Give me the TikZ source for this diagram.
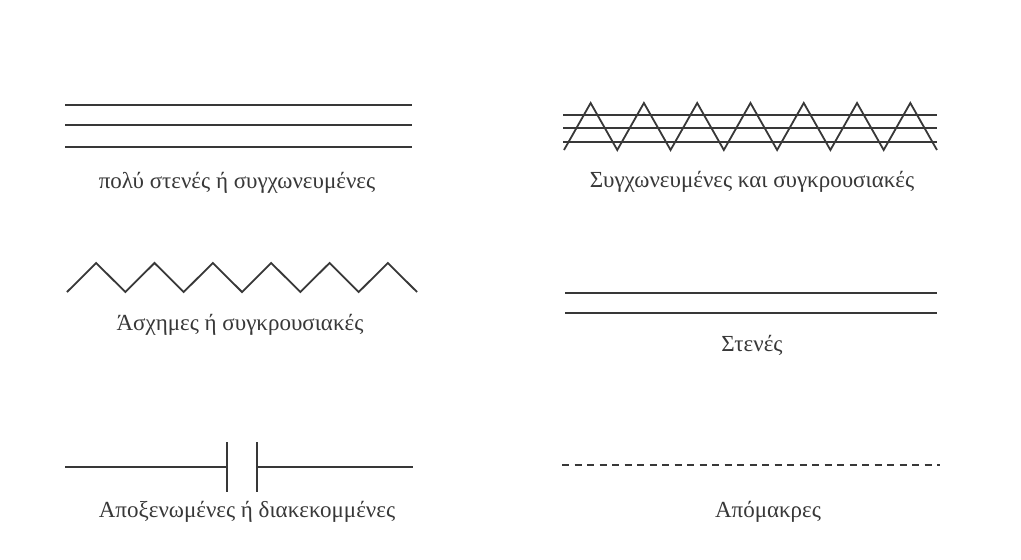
\documentclass[tikz,border=0pt]{standalone}
\usepackage{fontspec}
\setmainfont{Liberation Serif}
\usetikzlibrary{positioning}
\definecolor{ink}{HTML}{383838}
\tikzset{
  rel/.style ={draw=ink, line width=1.8pt, line join=miter},
  far/.style ={rel, dash pattern=on 7pt off 5.5pt},
  lbl/.style ={text=ink, font=\fontsize{23}{26}\selectfont, inner sep=0pt},
}

\begin{document}
\begin{tikzpicture}[x=1pt,y=-1pt]
  \useasboundingbox[fill=white] (0,0) rectangle (1021,560);
  % very close or fused
  \foreach \y in {105,125,147} \draw[rel] (65,\y) -- (412,\y);
  \node[lbl] (fused) at (237,183) {πολύ στενές ή συγχωνευμένες};
  % fused and conflictual
  \foreach \y in {115,128,142} \draw[rel] (563,\y) -- (937,\y);
  \draw[rel] (564,150) \foreach \i in {1,...,14} { -- ({564+\i*26.64},{ifthenelse(isodd(\i),103,150)}) };
  \node[lbl] (fusedconf) at (752,182) {Συγχωνευμένες και συγκρουσιακές};
  % poor or conflictual
  \draw[rel] (67,292) \foreach \i in {1,...,12} { -- ({67+\i*29.17},{ifthenelse(isodd(\i),263,292)}) };
  \node[lbl] (conf) at (240,325) {Άσχημες ή συγκρουσιακές};
  % close
  \foreach \y in {293,313} \draw[rel] (565,\y) -- (937,\y);
  \node[lbl] (close) at (752,345) {Στενές};
  % estranged or cut off
  \coordinate (cl) at (65,467);
  \coordinate (cr) at (413,467);
  \coordinate (ca) at (227,467);
  \coordinate (cb) at (257,467);
  \draw[rel] (cl) -- (ca);
  \draw[rel] (cb) -- (cr);
  \draw[rel] (227,442) -- (227,492);
  \draw[rel] (257,442) -- (257,492);
  \node[lbl] (cutoff) at (247,512) {Αποξενωμένες ή διακεκομμένες};
  % distant
  \draw[far] (562,465) -- (940,465);
  \node[lbl] (distant) at (768,512) {Απόμακρες};
\end{tikzpicture}
\end{document}
